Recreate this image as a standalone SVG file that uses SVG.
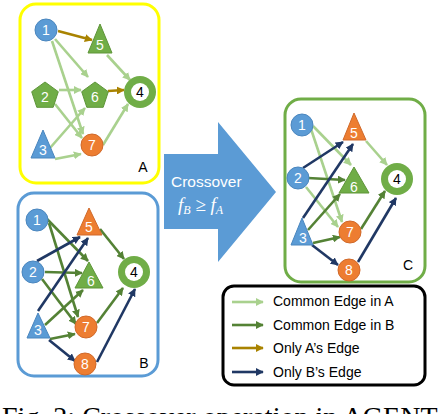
<svg xmlns="http://www.w3.org/2000/svg" width="444" height="414" viewBox="0 0 444 414">
<defs>
<style>
.panel{fill:none;stroke-width:3}
.e{fill:none;stroke-width:2.6}
.lg{stroke:#A9D18E}
.dg{stroke:#548235}
.br{stroke:#A98300}
.nv{stroke:#203864}
.blue{fill:#5B9BD5;stroke:#4A86BE;stroke-width:1}
.green{fill:#70AD47;stroke:#5E9539;stroke-width:1}
.orange{fill:#ED7D31;stroke:#D0692A;stroke-width:1}
.lbl{font-family:'Liberation Sans',Arial,sans-serif;font-size:14px;fill:#fff;text-anchor:middle}
.lbk{font-family:'Liberation Sans',Arial,sans-serif;font-size:14px;fill:#000;text-anchor:middle}
.leg{font-family:'Liberation Sans',Arial,sans-serif;font-size:14px;fill:#000}
</style>
<marker id="mlg" viewBox="0 0 10 10" refX="9" refY="5" markerWidth="8" markerHeight="8" markerUnits="userSpaceOnUse" orient="auto"><path d="M0,0L10,5L0,10z" fill="#A9D18E"/></marker>
<marker id="mdg" viewBox="0 0 10 10" refX="9" refY="5" markerWidth="8" markerHeight="8" markerUnits="userSpaceOnUse" orient="auto"><path d="M0,0L10,5L0,10z" fill="#548235"/></marker>
<marker id="mbr" viewBox="0 0 10 10" refX="9" refY="5" markerWidth="8" markerHeight="8" markerUnits="userSpaceOnUse" orient="auto"><path d="M0,0L10,5L0,10z" fill="#A98300"/></marker>
<marker id="mnv" viewBox="0 0 10 10" refX="9" refY="5" markerWidth="8" markerHeight="8" markerUnits="userSpaceOnUse" orient="auto"><path d="M0,0L10,5L0,10z" fill="#203864"/></marker>
</defs>
<rect width="444" height="414" fill="#fff"/>

<!-- panels -->
<rect id="panelA" class="panel" x="20" y="4" width="139" height="179" rx="16" stroke="#FFFF00"/>
<rect id="panelB" class="panel" x="18" y="193" width="140" height="183" rx="16" stroke="#5B9BD5"/>
<rect id="panelC" class="panel" x="285" y="99" width="140" height="183" rx="16" stroke="#70AD47"/>

<!-- big arrow -->
<g id="crossover">
<path d="M164,154H218V122L276,192L218,262V229H164Z" fill="#5B9BD5"/>
<text x="171" y="187" font-family="'Liberation Sans',Arial,sans-serif" font-size="15.5" fill="#fff">Crossover</text>
<text x="178" y="211" font-family="'Liberation Serif','Times New Roman',serif" font-size="19" font-style="italic" fill="#fff">f<tspan font-size="12" dy="3">B</tspan><tspan dy="-3" font-style="normal"> ≥ </tspan>f<tspan font-size="12" dy="3">A</tspan></text>
</g>

<!-- connectors -->
<g id="connectors">
<!-- A -->
<line class="e br" x1="58" y1="31" x2="92" y2="40" marker-end="url(#mbr)"/>
<line class="e lg" x1="55" y1="39" x2="88" y2="77" marker-end="url(#mlg)"/>
<line class="e lg" x1="52" y1="41" x2="83" y2="134" marker-end="url(#mlg)"/>
<line class="e lg" x1="107" y1="55" x2="130" y2="80" marker-end="url(#mlg)"/>
<line class="e lg" x1="59" y1="90" x2="81" y2="90" marker-end="url(#mlg)"/>
<line class="e br" x1="108" y1="91" x2="124" y2="90" marker-end="url(#mbr)"/>
<line class="e lg" x1="55" y1="104" x2="82" y2="138" marker-end="url(#mlg)"/>
<line class="e lg" x1="50" y1="148" x2="85" y2="108" marker-end="url(#mlg)"/>
<line class="e lg" x1="55" y1="159" x2="81" y2="154" marker-end="url(#mlg)"/>
<line class="e lg" x1="103" y1="145" x2="128" y2="104" marker-end="url(#mlg)"/>
<!-- B -->
<line class="e dg" x1="47" y1="219" x2="88" y2="261" marker-end="url(#mdg)"/>
<line class="e dg" x1="49" y1="223" x2="78" y2="317" marker-end="url(#mdg)"/>
<line class="e nv" x1="37" y1="261" x2="80" y2="237" marker-end="url(#mnv)"/>
<line class="e dg" x1="45" y1="272" x2="82" y2="273" marker-end="url(#mdg)"/>
<line class="e dg" x1="42" y1="279" x2="76" y2="324" marker-end="url(#mdg)"/>
<line class="e nv" x1="38" y1="311" x2="88" y2="238" marker-end="url(#mnv)"/>
<line class="e dg" x1="45" y1="325" x2="83" y2="290" marker-end="url(#mdg)"/>
<line class="e dg" x1="50" y1="339" x2="75" y2="334" marker-end="url(#mdg)"/>
<line class="e nv" x1="49" y1="340" x2="75" y2="361" marker-end="url(#mnv)"/>
<line class="e dg" x1="100" y1="229" x2="124" y2="259" marker-end="url(#mdg)"/>
<line class="e dg" x1="97" y1="323" x2="123" y2="288" marker-end="url(#mdg)"/>
<line class="e nv" x1="97" y1="362" x2="135" y2="289" marker-end="url(#mnv)"/>
<!-- C -->
<line class="e lg" x1="313" y1="126" x2="351" y2="165" marker-end="url(#mlg)"/>
<line class="e lg" x1="311" y1="129" x2="342" y2="222" marker-end="url(#mlg)"/>
<line class="e nv" x1="303" y1="168" x2="343" y2="142" marker-end="url(#mnv)"/>
<line class="e dg" x1="308" y1="178" x2="345" y2="180" marker-end="url(#mdg)"/>
<line class="e lg" x1="306" y1="187" x2="338" y2="227" marker-end="url(#mlg)"/>
<line class="e nv" x1="303" y1="218" x2="353" y2="144" marker-end="url(#mnv)"/>
<line class="e dg" x1="308" y1="230" x2="340" y2="194" marker-end="url(#mdg)"/>
<line class="e dg" x1="313" y1="243" x2="340" y2="237" marker-end="url(#mdg)"/>
<line class="e nv" x1="312" y1="245" x2="338" y2="265" marker-end="url(#mnv)"/>
<line class="e lg" x1="366" y1="141" x2="387" y2="165" marker-end="url(#mlg)"/>
<line class="e dg" x1="361" y1="229" x2="385" y2="191" marker-end="url(#mdg)"/>
<line class="e nv" x1="358" y1="262" x2="396" y2="198" marker-end="url(#mnv)"/>
</g>

<!-- nodes panel A -->
<g id="A1"><circle class="blue" cx="46" cy="30" r="11"/><text class="lbl" x="46" y="35">1</text></g>
<g id="A5"><path class="green" d="M100,24L112,53H88Z"/><text class="lbl" x="100" y="50">5</text></g>
<g id="A2"><path class="green" d="M45,82L58.3,91.7L53.2,107.3H36.8L31.7,91.7Z"/><text class="lbl" x="45" y="102">2</text></g>
<g id="A6"><path class="green" d="M95,82L108.3,91.7L103.2,107.3H86.8L81.7,91.7Z"/><text class="lbl" x="95" y="102">6</text></g>
<g id="A4"><circle cx="140" cy="92" r="16" fill="#70AD47"/><circle cx="140" cy="92" r="9" fill="#fff"/><text class="lbk" x="140" y="97">4</text></g>
<g id="A3"><path class="blue" d="M43,130L55,158H31Z"/><text class="lbl" x="43" y="155">3</text></g>
<g id="A7"><circle class="orange" cx="92" cy="145" r="11"/><text class="lbl" x="92" y="150">7</text></g>
<text x="143" y="172" class="lbk" font-size="13">A</text>

<!-- nodes panel B -->
<g id="B1"><circle class="blue" cx="37" cy="220" r="11"/><text class="lbl" x="37" y="225">1</text></g>
<g id="B5"><path class="orange" d="M89,208L102,235H77Z"/><text class="lbl" x="89" y="232">5</text></g>
<g id="B2"><circle class="blue" cx="33" cy="272" r="11"/><text class="lbl" x="33" y="277">2</text></g>
<g id="B6"><path class="green" d="M89,262L103,288H75Z"/><text class="lbl" x="91" y="286">6</text></g>
<g id="B4"><circle cx="134" cy="272" r="16" fill="#70AD47"/><circle cx="134" cy="272" r="9" fill="#fff"/><text class="lbk" x="134" y="277">4</text></g>
<g id="B3"><path class="blue" d="M38,313L50,338H27Z"/><text class="lbl" x="38" y="335">3</text></g>
<g id="B7"><circle class="orange" cx="86" cy="327" r="11"/><text class="lbl" x="86" y="332">7</text></g>
<g id="B8"><circle class="orange" cx="85" cy="364" r="11"/><text class="lbl" x="85" y="369">8</text></g>
<text x="144" y="368" class="lbk" font-size="13">B</text>

<!-- nodes panel C -->
<g id="C1"><circle class="blue" cx="302" cy="125" r="11"/><text class="lbl" x="302" y="130">1</text></g>
<g id="C5"><path class="orange" d="M354,113L366,140H343Z"/><text class="lbl" x="354" y="138">5</text></g>
<g id="C2"><circle class="blue" cx="298" cy="178" r="11"/><text class="lbl" x="298" y="183">2</text></g>
<g id="C6"><path class="green" d="M354,167L369,193H339Z"/><text class="lbl" x="354" y="192">6</text></g>
<g id="C4"><circle cx="397" cy="179" r="16" fill="#70AD47"/><circle cx="397" cy="179" r="9" fill="#fff"/><text class="lbk" x="397" y="184">4</text></g>
<g id="C3"><path class="blue" d="M302,218L313,245H291Z"/><text class="lbl" x="303" y="243">3</text></g>
<g id="C7"><circle class="orange" cx="350" cy="232" r="11"/><text class="lbl" x="350" y="237">7</text></g>
<g id="C8"><circle class="orange" cx="349" cy="270" r="11"/><text class="lbl" x="349" y="275">8</text></g>
<text x="408" y="270" class="lbk" font-size="13">C</text>

<!-- legend -->
<g id="legend">
<rect x="223" y="286" width="202" height="99" rx="11" fill="#fff" stroke="#000" stroke-width="3"/>
<line class="e lg" x1="232" y1="302" x2="263" y2="302" marker-end="url(#mlg)"/>
<text class="leg" x="273" y="306">Common Edge in A</text>
<line class="e dg" x1="232" y1="325" x2="263" y2="325" marker-end="url(#mdg)"/>
<text class="leg" x="273" y="330">Common Edge in B</text>
<line class="e br" x1="232" y1="348" x2="263" y2="348" marker-end="url(#mbr)"/>
<text class="leg" x="273" y="353">Only A’s Edge</text>
<line class="e nv" x1="232" y1="372" x2="263" y2="372" marker-end="url(#mnv)"/>
<text class="leg" x="273" y="377">Only B’s Edge</text>
</g>

<!-- caption (cut off at the bottom edge, as in the reference) -->
<text x="2" y="426" font-family="'Liberation Serif','Times New Roman',serif" font-size="28" fill="#000">Fig. 2: Crossover operation in AGENT</text>
</svg>
